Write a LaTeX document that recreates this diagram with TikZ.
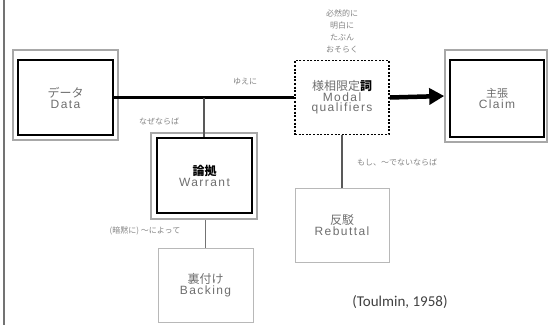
\documentclass[tikz,border=0pt]{standalone}
\usepackage{fontspec}
\setmainfont{Noto Sans CJK JP}
\newfontfamily\latfont[LetterSpace=12]{Liberation Sans}
\newfontfamily\srcfont{Carlito}
\usetikzlibrary{arrows.meta}
\definecolor{txtgray}{HTML}{6E6E6E}
\definecolor{lblgray}{HTML}{858585}
\definecolor{framegray}{HTML}{A8A8A8}
\definecolor{thingray}{HTML}{B8B8B8}
\newcommand{\jpl}[1]{{\fontsize{12}{13.5}\selectfont #1}}
\newcommand{\ltl}[1]{{\latfont\fontsize{12}{13.5}\selectfont #1}}
\tikzset{
  boxtxt/.style={text=txtgray, align=center, inner sep=0pt},
  innerbox/.style={boxtxt, draw=black, line width=2.6pt},
  outerbox/.style={draw=framegray, line width=1.6pt, inner sep=0pt},
  modalbox/.style={boxtxt, draw=black, line width=1.7pt, dash pattern=on 2pt off 1.6pt},
  thinbox/.style={boxtxt, draw=thingray, line width=0.8pt},
  lbl/.style={text=lblgray, font=\fontsize{8}{12}\selectfont, inner sep=0pt, align=center},
  mainline/.style={draw=black, line width=2.2pt},
  branch/.style={draw=black!65, line width=1.3pt},
}
\begin{document}
\begin{tikzpicture}[x=1pt,y=-1pt]
\useasboundingbox (0,0) rectangle (548,325);
\draw[draw=black!55, line width=1.8pt] (4,0) -- (4,325);
% outer frames
\node[outerbox, minimum width=105pt, minimum height=90pt] (dataO) at (65.5,95) {};
\node[outerbox, minimum width=106pt, minimum height=86pt] (warrO) at (204,176) {};
\node[outerbox, minimum width=102pt, minimum height=92pt] (claimO) at (496,96) {};
% inner boxes
\node[innerbox, minimum width=95pt, minimum height=75pt] (data) at (65.5,97.5) {\jpl{データ}\\[-1pt]\ltl{Data}};
\node[innerbox, minimum width=95pt, minimum height=75pt] (warr) at (204.5,175.5) {\jpl{\textcolor{black}{\bfseries 論拠}}\\[-1pt]\ltl{Warrant}};
\node[innerbox, minimum width=94pt, minimum height=77pt] (claim) at (497,98.5) {{\fontsize{11}{13}\selectfont 主張}\\[-1pt]\ltl{Claim}};
\node[modalbox, minimum width=94pt, minimum height=74pt] (modal) at (342,97.5) {\jpl{様相限定\textcolor{black}{\bfseries 詞}}\\[-1.5pt]\ltl{Modal}\\[-1.5pt]\ltl{qualifiers}};
\node[thinbox, minimum width=95pt, minimum height=74pt] (back) at (205.5,285) {\jpl{裏付け}\\[-1pt]\ltl{Backing}};
\node[thinbox, minimum width=94pt, minimum height=74pt] (reb) at (342,225) {\jpl{反駁}\\[-1pt]\ltl{Rebuttal}};
% connectors
\coordinate (wj) at (204,97.5);
\draw[mainline] (data.east) -- (modal.west);
\draw[branch] (wj) -- (wj |- warr.north);
\draw[branch, draw=black!55] (warrO.south -| back.north) -- (back.north);
\draw[branch] (modal.south) -- (reb.north);
\draw[line width=4.5pt, -{Triangle[length=15pt,width=16pt]}] (modal.east) -- (claimO.west);
% labels
\node[lbl] (yueni) at (245,82) {ゆえに};
\node[lbl] (nazenara) at (159,121) {なぜならば};
\node[lbl] (quals) at (342,31.5) {必然的に\\明白に\\たぶん\\おそらく};
\node[lbl] (moshi) at (397,162) {もし、〜でないならば};
\node[lbl] (niyotte) at (145,231) {(暗黙に) 〜によって};
\node[text=black!75, font=\srcfont\fontsize{15}{17}\selectfont, inner sep=0pt] (src) at (400,302) {(Toulmin, 1958)};
\end{tikzpicture}
\end{document}
